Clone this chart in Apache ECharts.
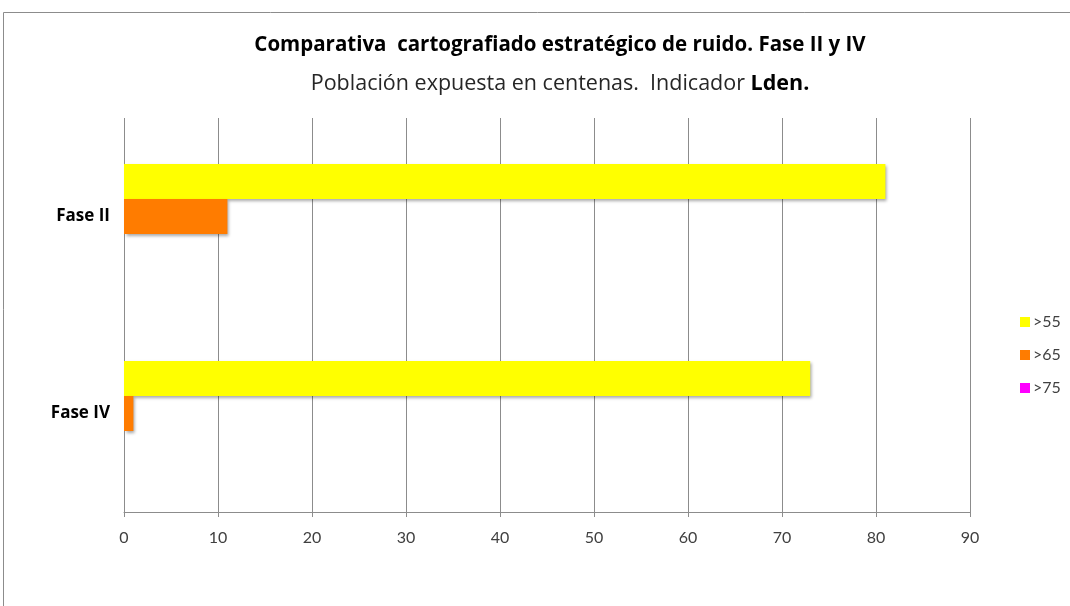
<!DOCTYPE html>
<html>
<head>
<meta charset="utf-8">
<script src="https://cdn.jsdelivr.net/npm/echarts@6/dist/echarts.min.js"></script>
<style>
html,body{margin:0;padding:0;background:#fff;}
#c{width:1070px;height:606px;}
</style>
</head>
<body>
<div id="c"></div>
<script>
const categories = ['Fase II', 'Fase IV'];
const seriesNames = ['>55', '>65', '>75'];
const values55 = [81, 73];
const values65 = [11, 1];
const values75 = [0, 0];
const xTicks = [0, 10, 20, 30, 40, 50, 60, 70, 80, 90];
const colors = ['#FFFF00', '#FF7C00', '#FF00FF'];

const FONT = 'Lato';
const TFONT = 'Open Sans';
const chart = echarts.init(document.getElementById('c'));
const allValues = [values55, values65, values75];
chart.setOption({
  animation: false,
  backgroundColor: '#fff',
  graphic: [{
    type: 'rect', silent: true, z: -1,
    shape: { x: 3.5, y: 12.5, width: 1200, height: 800 },
    style: { fill: 'none', stroke: '#8c8c8c', lineWidth: 1 }
  }],
  title: [{
    text: 'Comparativa  cartografiado estratégico de ruido. Fase II y IV',
    left: 555, top: 30, textAlign: 'center',
    textStyle: { fontFamily: TFONT, fontSize: 20.5, fontWeight: 'bold', color: '#000' }
  }, {
    text: '{n|Población expuesta en centenas.  Indicador }{b|Lden.}',
    left: 555, top: 68, textAlign: 'center',
    textStyle: {
      rich: {
        n: { fontFamily: TFONT, fontSize: 21.5, fontWeight: 'normal', color: '#262626' },
        b: { fontFamily: TFONT, fontSize: 21.5, fontWeight: 'bold', color: '#000' }
      }
    }
  }],
  legend: {
    orient: 'vertical', left: 1015, top: 309, itemGap: 17,
    itemWidth: 10, itemHeight: 10, icon: 'rect',
    textStyle: { fontFamily: FONT, fontSize: 16, color: '#404040', padding: [0, 0, 0, -2] },
    data: seriesNames
  },
  grid: { left: 124, right: 100, top: 118, bottom: 94, containLabel: false },
  xAxis: {
    type: 'value', min: 0, max: 90, interval: 10,
    axisLine: { show: true, lineStyle: { color: '#8c8c8c' } },
    axisTick: { show: true, length: 5, lineStyle: { color: '#8c8c8c' } },
    splitLine: { show: true, lineStyle: { color: '#8c8c8c', width: 1 } },
    axisLabel: {
      margin: 18, fontFamily: FONT, fontSize: 16, color: '#404040',
      formatter: v => xTicks.includes(v) ? String(v) : ''
    }
  },
  yAxis: {
    type: 'category', data: categories, inverse: true,
    axisLine: { show: false }, axisTick: { show: false },
    axisLabel: { margin: 14, fontFamily: TFONT, fontSize: 17, fontWeight: 'bold', color: '#000' }
  },
  series: seriesNames.map((name, i) => ({
    name, type: 'bar', data: allValues[i],
    barWidth: 35, barGap: '0%',
    itemStyle: {
      color: colors[i],
      shadowBlur: 3, shadowOffsetX: 2, shadowOffsetY: 2, shadowColor: 'rgba(0,0,0,0.35)'
    }
  }))
});
</script>
</body>
</html>
